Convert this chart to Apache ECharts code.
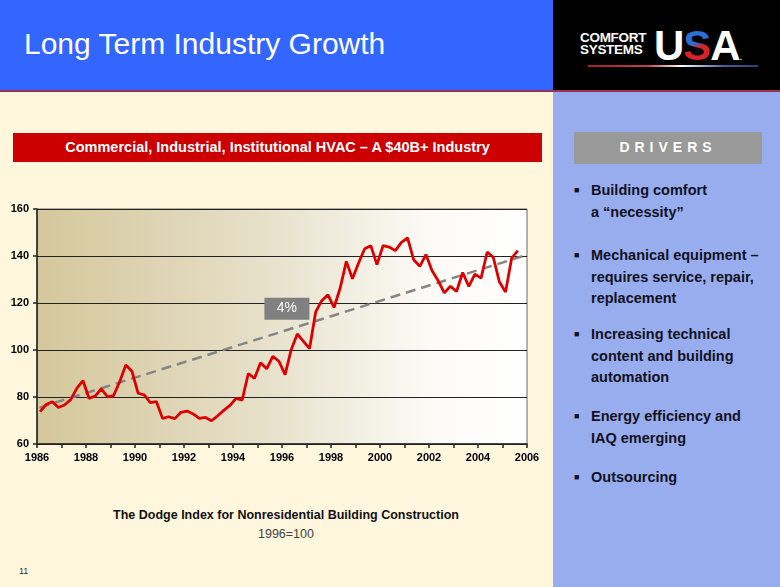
<!DOCTYPE html>
<html>
<head>
<meta charset="utf-8">
<script src="https://cdn.jsdelivr.net/npm/echarts@6/dist/echarts.min.js"></script>
<style>
  html, body { margin:0; padding:0; width:780px; height:587px; overflow:hidden; background:#FFF7DD; font-family:"Liberation Sans", Arial, sans-serif; }
  #page { position:relative; width:780px; height:587px; }
  .abs { position:absolute; }
  #topbar { left:0; top:0; width:553px; height:90px; background:#3366FF; }
  #logo { left:553px; top:0; width:227px; height:90px; background:#000; }
  #sep { left:0; top:90px; width:780px; height:2px; background:#993350; }
  #side { left:553px; top:92px; width:227px; height:495px; background:#98ADEE; }
  #title { left:24px; top:27px; color:#fff; font-size:30px; white-space:nowrap; }
  #banner { left:13px; top:133px; width:529px; height:29px; background:#CC0000; color:#fff; font-weight:bold; font-size:14.5px; line-height:29px; text-align:center; white-space:nowrap; }
  #drivers { left:574px; top:132px; width:188px; height:32px; background:#999999; color:#fff; font-weight:bold; font-size:14px; line-height:30px; text-align:center; letter-spacing:5px; }
  .bul { position:absolute; left:574px; color:#111122; font-weight:bold; font-size:14.5px; line-height:21.5px; }
  .bul span.b { position:absolute; left:0; font-size:9px; }
  .bul div { margin-left:17px; }
  #dodge { left:0; width:572px; top:508px; text-align:center; font-weight:bold; font-size:12.5px; color:#111; }
  #base { left:0; width:572px; top:527px; text-align:center; font-size:12.5px; color:#444; }
  #pg { left:19px; top:566px; font-size:9px; color:#333; }
  #chart { position:absolute; left:0; top:0; width:780px; height:587px; }
  .lg1 { left:580px; top:32px; color:#fff; font-weight:bold; font-size:13.5px; line-height:12px; letter-spacing:-0.3px; }
  .usa { left:654px; top:22px; font-weight:bold; font-size:42px; color:#fff; letter-spacing:-1px; }
  .usa .s { background:linear-gradient(160deg,#2a6fd6 0%,#2a6fd6 45%,#d8232a 55%,#d8232a 100%); -webkit-background-clip:text; background-clip:text; color:transparent; }
  #uline { left:588px; top:65px; width:170px; height:2px; background:linear-gradient(90deg,#a02030,#c04050 35%,#ffffff 55%,#4060a0 80%,#304070); }
</style>
</head>
<body>
<div id="page">
  <div class="abs" id="topbar"></div>
  <div class="abs" id="logo"></div>
  <div class="abs" id="sep"></div>
  <div class="abs" id="side"></div>
  <div class="abs" id="title">Long Term Industry Growth</div>
  <div class="abs lg1">COMFORT<br>SYSTEMS</div>
  <div class="abs usa">U<span class="s">S</span>A<span style="font-size:8px">.</span></div>
  <div class="abs" id="uline"></div>
  <div class="abs" id="banner">Commercial, Industrial, Institutional HVAC – A $40B+ Industry</div>
  <div class="abs" id="drivers">DRIVERS</div>
  <div class="bul" style="top:180px"><span class="b">■</span><div>Building comfort<br>a “necessity”</div></div>
  <div class="bul" style="top:245px"><span class="b">■</span><div>Mechanical equipment –<br>requires service, repair,<br>replacement</div></div>
  <div class="bul" style="top:324px"><span class="b">■</span><div>Increasing technical<br>content and building<br>automation</div></div>
  <div class="bul" style="top:406px"><span class="b">■</span><div>Energy efficiency and<br>IAQ emerging</div></div>
  <div class="bul" style="top:467px"><span class="b">■</span><div>Outsourcing</div></div>
  <div class="abs" id="dodge">The Dodge Index for Nonresidential Building Construction</div>
  <div class="abs" id="base">1996=100</div>
  <div class="abs" id="pg">11</div>
  <div id="chart"></div>
</div>
<script>
// Quarterly Dodge index values, first quarter 1986 through mid 2005
const firstPeriod = 1986.125;
const periodStep = 0.25;
const dodgeIndex = [
  73.8, 76.8, 78.0, 75.5, 76.6, 78.9, 83.7, 87.0,
  79.4, 80.4, 83.5, 80.1, 80.6, 86.5, 93.6, 91.0,
  81.6, 80.9, 77.6, 78.0, 70.9, 71.6, 70.8, 73.5,
  74.0, 72.8, 70.9, 71.3, 69.9, 72.0, 74.3, 76.4,
  79.4, 78.7, 90.0, 87.9, 94.6, 92.0, 97.3, 95.2,
  89.5, 100.1, 106.8, 103.7, 100.6, 116.2, 121.0, 123.5,
  118.1, 126.4, 137.7, 130.3, 137.0, 143.1, 144.4, 136.3,
  144.4, 143.8, 142.3, 145.8, 147.7, 138.4, 135.6, 140.6,
  133.7, 129.5, 124.3, 127.1, 124.9, 133.0, 127.1, 132.3,
  130.6, 141.7, 139.4, 128.9, 124.7, 139.1, 142.3
];
// Trend line (4% growth) end points
const trendYears = [1986.1, 2006];
const trendValues = [75.5, 140.5];
// Trend annotation
const trendLabel = '4%';
const trendLabelAt = [1996.2, 117.6];
// Axes
const xMin = 1986, xMax = 2006, xStep = 1;
const yMin = 60, yMax = 160, yStep = 20;

const dodgeData = dodgeIndex.map((v, i) => [firstPeriod + i * periodStep, v]);
const trendData = trendYears.map((y, i) => [y, trendValues[i]]);

const chart = echarts.init(document.getElementById('chart'), null, {renderer: 'canvas'});
const axisFont = {fontFamily: '"Liberation Sans", Arial, sans-serif', fontWeight: 'bold', fontSize: 11, color: '#000'};
chart.setOption({
  animation: false,
  backgroundColor: 'transparent',
  grid: {
    left: 37, top: 209, right: 253, bottom: 143,
    show: true,
    borderColor: '#666', borderWidth: 1,
    backgroundColor: new echarts.graphic.LinearGradient(0, 0, 1, 0, [
      {offset: 0, color: '#d4c79b'},
      {offset: 0.45, color: '#e6dfc8'},
      {offset: 0.8, color: '#fbfaf6'},
      {offset: 1, color: '#ffffff'}
    ])
  },
  xAxis: {
    type: 'value', min: xMin, max: xMax, interval: xStep,
    axisLine: {show: true, lineStyle: {color: '#222', width: 1.5}},
    axisTick: {show: true, length: 4, lineStyle: {color: '#222', width: 1.5}},
    splitLine: {show: false},
    axisLabel: Object.assign({margin: 8, formatter: v => (v % 2 === 0 ? String(v) : '')}, axisFont)
  },
  yAxis: {
    type: 'value', min: yMin, max: yMax, interval: yStep,
    axisLine: {show: true, lineStyle: {color: '#222', width: 1.5}},
    axisTick: {show: true, length: 4, lineStyle: {color: '#222', width: 1.5}},
    splitLine: {show: true, lineStyle: {color: '#222', width: 1}},
    axisLabel: Object.assign({margin: 8}, axisFont)
  },
  series: [
    {
      type: 'line', data: trendData, symbol: 'none', z: 2,
      lineStyle: {color: '#858585', width: 2.5, type: [10, 6]},
      markPoint: {
        symbol: 'rect', symbolSize: [45, 22],
        itemStyle: {color: '#808080'},
        label: {show: true, formatter: trendLabel, color: '#fff', fontSize: 14, fontFamily: '"Liberation Sans", Arial, sans-serif'},
        data: [{coord: trendLabelAt}]
      }
    },
    {
      type: 'line', data: dodgeData, symbol: 'none', z: 3,
      lineStyle: {color: '#DD0000', width: 2.8}
    }
  ]
});
</script>
</body>
</html>
